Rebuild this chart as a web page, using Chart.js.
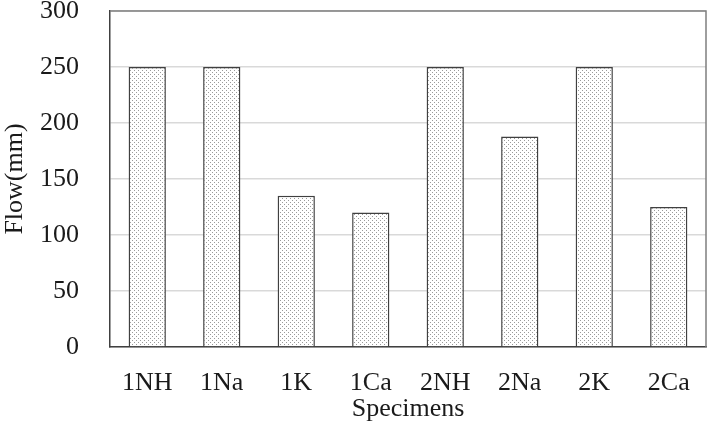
<!DOCTYPE html>
<html>
<head>
<meta charset="utf-8">
<script src="https://cdn.jsdelivr.net/npm/chart.js@4/dist/chart.umd.min.js"></script>
<style>
  html, body { margin: 0; padding: 0; background: #fff; }
  #wrap { width: 712px; height: 431px; }
</style>
</head>
<body>
<div id="wrap"><canvas id="flowChart"></canvas></div>
<script>
const specimens = ["1NH", "1Na", "1K", "1Ca", "2NH", "2Na", "2K", "2Ca"];
const flowValues = [250, 250, 135, 120, 250, 188, 250, 125];
const yTicks = [0, 50, 100, 150, 200, 250, 300];

// dotted fill like the excel pattern
function dotPattern() {
    const c = document.createElement("canvas");
    c.width = 4;
    c.height = 4;
    const g = c.getContext("2d");
    g.fillStyle = "#ffffff";
    g.fillRect(0, 0, 4, 4);
    g.fillStyle = "#9a9a9a";
    g.fillRect(0, 0, 1, 1);
    g.fillRect(2, 2, 1, 1);
    return g.createPattern(c, "repeat");
}

// gray frame on top/right of plot area
const frame = {
    id: "frame",
    beforeDatasetsDraw(chart) {
        const a = chart.chartArea;
        const ctx = chart.ctx;
        ctx.save();
        ctx.strokeStyle = "#7f7f7f";
        ctx.lineWidth = 1.5;
        ctx.beginPath();
        ctx.moveTo(a.left, a.top);
        ctx.lineTo(a.right, a.top);
        ctx.lineTo(a.right, a.bottom);
        ctx.stroke();
        ctx.restore();
    }
};

const font = "Liberation Serif";

const data = {
    labels: specimens,
    datasets: [{
        label: "Flow",
        data: flowValues,
        backgroundColor: dotPattern(),
        borderColor: "#404040",
        borderWidth: 1.5,
        categoryPercentage: 1,
        barPercentage: 0.5
    }]
};

const config = {
    type: "bar",
    data: data,
    options: {
        responsive: true,
        maintainAspectRatio: false,
        animation: false,
        layout: { padding: { left: 0, right: 6, top: 0, bottom: 0 } },
        plugins: {
            legend: { display: false },
            tooltip: { enabled: false }
        },
        scales: {
            x: {
                afterFit: (axis) => { axis.height = 84; },
                grid: { display: false },
                border: { color: "#404040", width: 1.5 },
                ticks: {
                    color: "#1a1a1a",
                    font: { family: font, size: 26, lineHeight: 1 },
                    padding: 15
                },
                title: {
                    display: true,
                    text: "Specimens",
                    color: "#1a1a1a",
                    font: { family: font, size: 26, lineHeight: 1 },
                    padding: { top: 0, bottom: 9 }
                }
            },
            y: {
                min: 0,
                max: 300,
                afterBuildTicks: (axis) => { axis.ticks = yTicks.map(v => ({ value: v })); },
                afterFit: (axis) => {
                    axis.width = 110;
                    axis.paddingTop = 11;
                    axis.paddingBottom = 11;
                },
                grid: { color: "#d9d9d9", lineWidth: 1.5, drawTicks: false },
                border: { color: "#404040", width: 1.5 },
                ticks: {
                    color: "#1a1a1a",
                    font: { family: font, size: 26, lineHeight: 1 },
                    padding: 31
                },
                title: {
                    display: true,
                    text: "Flow(mm)",
                    color: "#1a1a1a",
                    font: { family: font, size: 26, lineHeight: 1.2 },
                    padding: { top: 0, bottom: 0 }
                }
            }
        }
    },
    plugins: [frame]
};

new Chart(document.getElementById("flowChart"), config);
</script>
</body>
</html>
